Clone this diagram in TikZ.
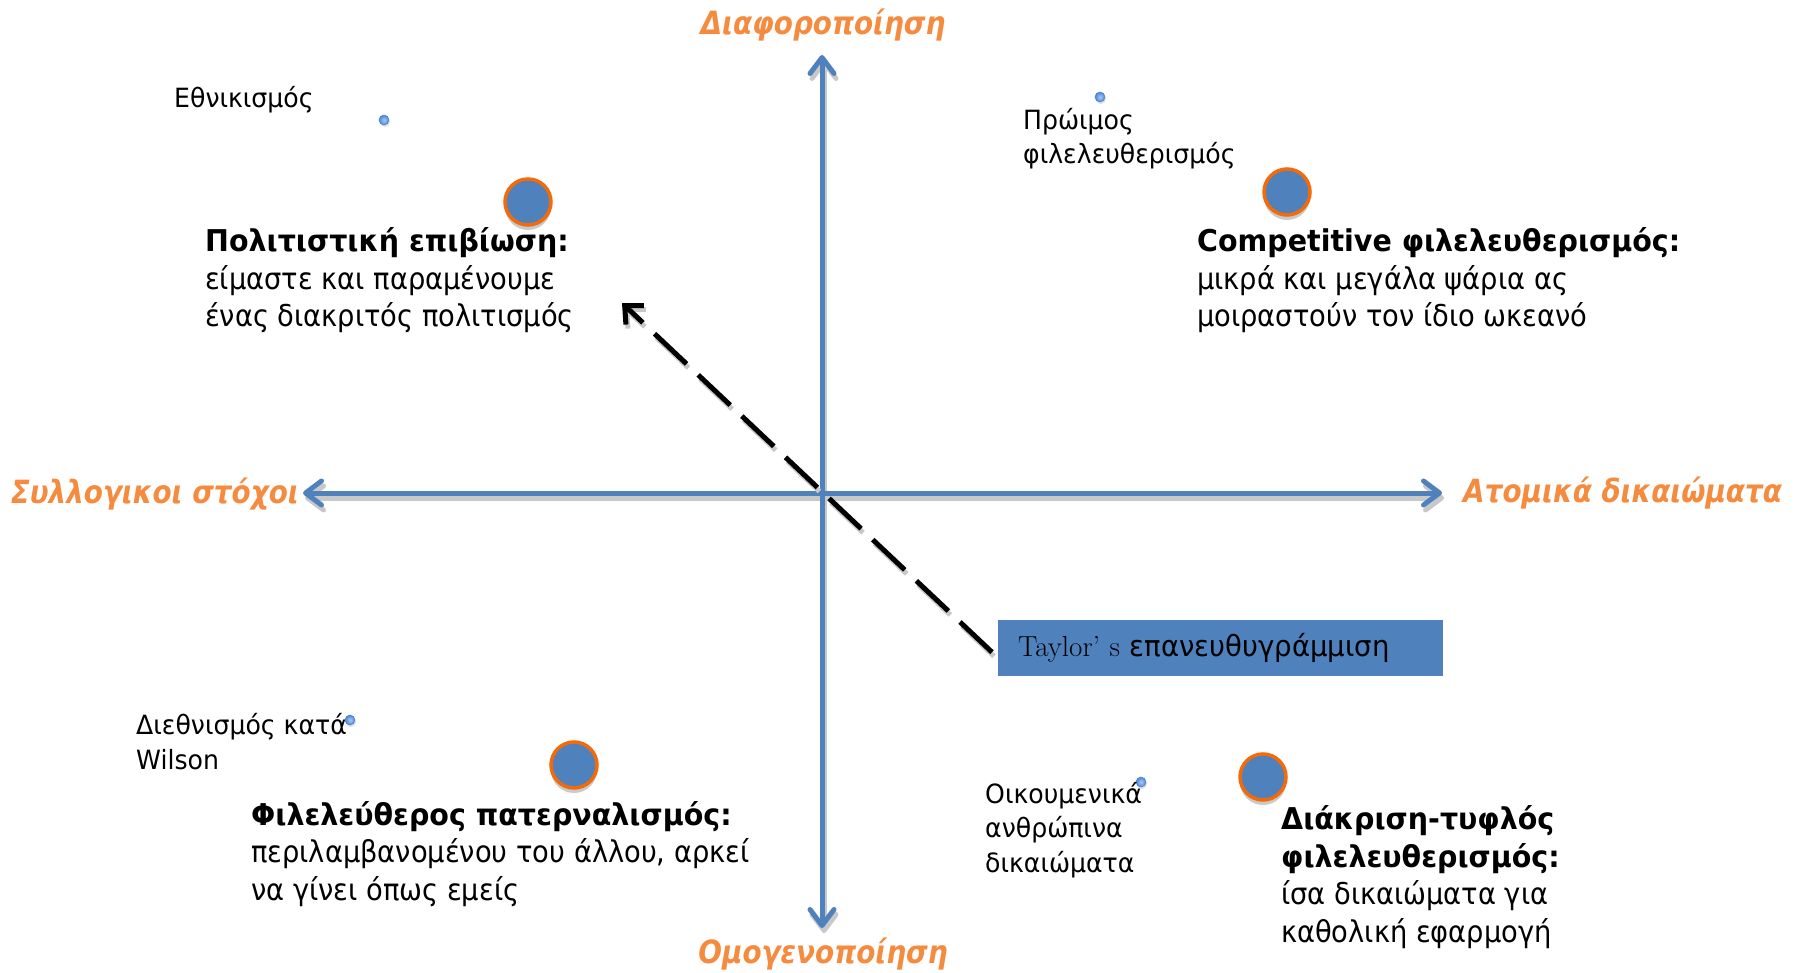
\documentclass[tikz,border=0pt]{standalone}
\usepackage{fontspec}
\newfontfamily\tf{DejaVu Sans}[FakeStretch=0.95]
\newfontfamily\tfr{DejaVu Sans}[FakeStretch=0.91]
\newfontfamily\of{DejaVu Sans}[FakeStretch=0.87]
\usetikzlibrary{arrows.meta,shadows}
\definecolor{axblue}{HTML}{4F81BD}
\definecolor{dotblue}{HTML}{4A86D8}
\definecolor{lblorange}{HTML}{F58B3F}
\definecolor{ringorange}{HTML}{F26A0A}
\definecolor{shgray}{HTML}{C8C8C8}
\tikzset{
  axisline/.style={draw=axblue, line width=5pt, line cap=round,
    {Straight Barb[length=16pt,width=24pt,round]}-{Straight Barb[length=16pt,width=24pt,round]}},
  axshadow/.style={draw=shgray, line width=5pt, line cap=round,
    {Straight Barb[length=16pt,width=24pt,round]}-{Straight Barb[length=16pt,width=24pt,round]},
    transform canvas={shift={(2,5)}}},
  dasharrow/.style={draw=black, line width=5pt, dash pattern=on 44pt off 16pt,
    -{Straight Barb[length=14pt,width=26pt]}},
  dashshadow/.style={draw=shgray, line width=5pt, dash pattern=on 44pt off 16pt,
    -{Straight Barb[length=14pt,width=26pt]}, transform canvas={shift={(2,4)}}},
  bigdot/.style={circle, minimum size=46pt, inner sep=0pt, fill=axblue, draw=ringorange, line width=3.5pt,
    drop shadow={shadow xshift=0pt, shadow yshift=-5pt, fill=black!35, opacity=0.6}},
  smalldot/.style={circle, minimum size=10pt, inner sep=0pt, draw=dotblue, line width=0.6pt,
    shading=radial, inner color=dotblue!45!white, outer color=dotblue,
    drop shadow={shadow xshift=1pt, shadow yshift=-2pt, fill=black!30, opacity=0.4}},
  lbl/.style={font=\tf\fontsize{26.5}{34.5}\selectfont, inner sep=0pt, align=left, anchor=base west},
  bigtxt/.style={font=\tfr\fontsize{30}{37.5}\selectfont, inner sep=0pt, align=left, anchor=base west},
  axlbl/.style={font=\of\bfseries\itshape\fontsize{32}{38}\selectfont, text=lblorange, inner sep=0pt},
  taylorbox/.style={fill=axblue, anchor=north west, minimum width=445pt, minimum height=56pt,
    inner xsep=20pt, text width=405pt, align=left, font=\fontsize{29}{34}\selectfont}
}
\newcommand{\bt}[1]{{\tf\bfseries #1}}
\begin{document}
\begin{tikzpicture}[x=1pt,y=-1pt]
\useasboundingbox (0,0) rectangle (1802,973);
% axes
\coordinate (top) at (822,55);
\coordinate (bot) at (822,928);
\coordinate (lft) at (303,493);
\coordinate (rgt) at (1442,493);
\draw[axshadow] (lft) -- (rgt);
\draw[axshadow] (top) -- (bot);
\draw[axisline] (lft) -- (rgt);
\draw[axisline] (top) -- (bot);
% axis labels
\node[axlbl, anchor=base] (diaf) at (823,35) {Διαφοροποίηση};
\node[axlbl, anchor=base] (omog) at (823,963) {Ομογενοποίηση};
\node[axlbl, anchor=base east] (syll) at (299,503) {Συλλογικοι στόχοι};
\node[axlbl, anchor=base west] (atom) at (1463,502) {Ατομικά δικαιώματα};
% Taylor box and dashed arrow
\node[taylorbox] (taylor) at (998,620) {Taylor’ s {\tf επανευθυγράμμιση}};
\coordinate (tip) at (622,303);
\coordinate (dstart) at ([xshift=-6pt,yshift=-4pt]taylor.west);
\draw[dashshadow] (dstart) -- (tip);
\draw[dasharrow] (dstart) -- (tip);
% dots
\node[smalldot] (d1) at (384,120) {};
\node[smalldot] (d2) at (1100,97) {};
\node[smalldot] (d3) at (350,720) {};
\node[smalldot] (d4) at (1141,782) {};
\node[bigdot] (c1) at (528,202) {};
\node[bigdot] (c2) at (1287,192) {};
\node[bigdot] (c3) at (574,765) {};
\node[bigdot] (c4) at (1263,777) {};
% texts (base anchor = baseline of last line)
\node[lbl] (ethn) at (174,108) {Εθνικισμός};
\node[lbl] (prwimos) at (1023,164) {Πρώιμος\\φιλελευθερισμός};
\node[lbl] (diethn) at (136,769) {Διεθνισμός κατά\\Wilson};
\node[lbl] (oikoum) at (985,872) {Οικουμενικά\\ανθρώπινα\\δικαιώματα};
\node[bigtxt] (polit) at (205,327) {\bt{Πολιτιστική επιβίωση:}\\είμαστε και παραμένουμε\\ένας διακριτός πολιτισμός};
\node[bigtxt] (compet) at (1197,327) {\bt{Competitive φιλελευθερισμός:}\\μικρά και μεγάλα ψάρια ας\\μοιραστούν τον ίδιο ωκεανό};
\node[bigtxt] (fileleu) at (251,900) {\bt{Φιλελεύθερος πατερναλισμός:}\\περιλαμβανομένου του άλλου, αρκεί\\να γίνει όπως εμείς};
\node[bigtxt] (diakr) at (1281,942) {\bt{Διάκριση-τυφλός}\\\bt{φιλελευθερισμός:}\\ίσα δικαιώματα για\\καθολική εφαρμογή};
\end{tikzpicture}
\end{document}
